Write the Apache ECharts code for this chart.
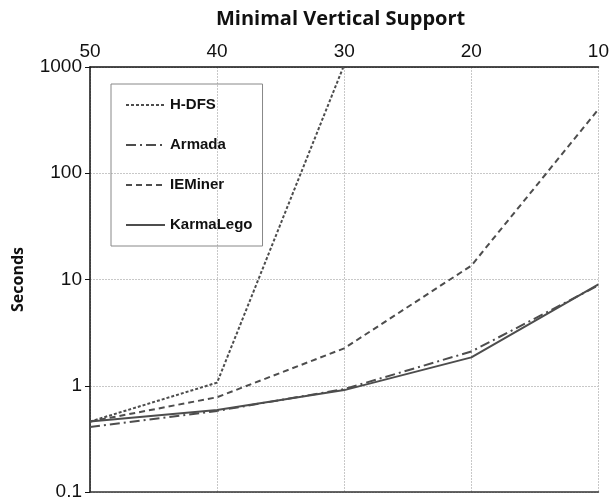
<!DOCTYPE html>
<html><head><meta charset="utf-8">
<script src="https://cdn.jsdelivr.net/npm/echarts@6/dist/echarts.min.js"></script>
<style>html,body{margin:0;padding:0;background:#fff}#c{width:612px;height:504px}</style>
</head><body><div id="c"></div>
<script>
var categories = ['50', '40', '30', '20', '10'];
var hdfs = [0.46, 1.07, 1050, null, null];
var armada = [0.41, 0.58, 0.93, 2.1, 8.8];
var ieminer = [0.46, 0.78, 2.25, 13.5, 400];
var karmalego = [0.46, 0.59, 0.91, 1.85, 9];
var seriesNames = ['H-DFS', 'Armada', 'IEMiner', 'KarmaLego'];

var lineColor = '#4d4d4d';
function mk(name, data, type) {
  return {
    name: name, type: 'line', data: data, symbol: 'none', connectNulls: false,
    lineStyle: { color: lineColor, width: 2, type: type },
    itemStyle: { color: lineColor }
  };
}
var chart = echarts.init(document.getElementById('c'));
chart.setOption({
  animation: false,
  backgroundColor: '#fff',
  title: {
    text: 'Minimal Vertical Support', left: 211, top: 4,
    textStyle: { fontFamily: 'Open Sans', fontWeight: 'bold', fontSize: 20, color: '#111' }
  },
  grid: { left: 90, right: 12, top: 67, bottom: 12 },
  legend: {
    orient: 'vertical', left: 111, top: 84,
    data: seriesNames,
    itemWidth: 39, itemHeight: 14, itemGap: 22,
    padding: [12, 10, 12, 14],
    borderColor: '#888', borderWidth: 1,
    itemStyle: { color: 'rgba(0,0,0,0)', borderColor: 'rgba(0,0,0,0)', borderWidth: 0 },
    textStyle: { fontFamily: 'Liberation Sans', fontWeight: 'bold', fontSize: 15, color: '#111', lineHeight: 18 }
  },
  xAxis: [{
    type: 'category', position: 'top', data: categories, boundaryGap: false,
    axisLine: { show: true, lineStyle: { color: '#111', width: 1.5 } },
    axisTick: { show: false },
    axisLabel: { fontFamily: 'Liberation Sans', fontSize: 19, color: '#111', margin: 6 },
    splitLine: { show: true, lineStyle: { color: '#c8c8c8', type: [2, 1], width: 1 } }
  }, {
    type: 'category', position: 'bottom', data: categories, boundaryGap: false,
    axisLine: { show: true, lineStyle: { color: '#333', width: 1.5 } },
    axisTick: { show: false }, axisLabel: { show: false }, splitLine: { show: false }
  }],
  yAxis: {
    type: 'log', logBase: 10, min: 0.1, max: 1000,
    name: 'Seconds', nameLocation: 'middle', nameRotate: 90, nameGap: 64,
    nameTextStyle: { fontFamily: 'Open Sans', fontWeight: 'bold', fontSize: 16, color: '#111' },
    axisLine: { show: true, lineStyle: { color: '#111', width: 1.5 } },
    axisTick: { show: true, length: 5, inside: false, lineStyle: { color: '#111' } },
    axisLabel: { fontFamily: 'Liberation Sans', fontSize: 19, color: '#111', margin: 8,
      formatter: function (v) { return v < 1 ? String(Math.round(v * 10) / 10) : String(Math.round(v)); } },
    splitLine: { show: true, lineStyle: { color: '#c8c8c8', type: [2, 1], width: 1 } }
  },
  series: [
    mk('H-DFS', hdfs, [3, 2]),
    mk('Armada', armada, [10, 4, 2, 4]),
    mk('IEMiner', ieminer, [6, 4]),
    mk('KarmaLego', karmalego, 'solid')
  ]
});
</script></body></html>
